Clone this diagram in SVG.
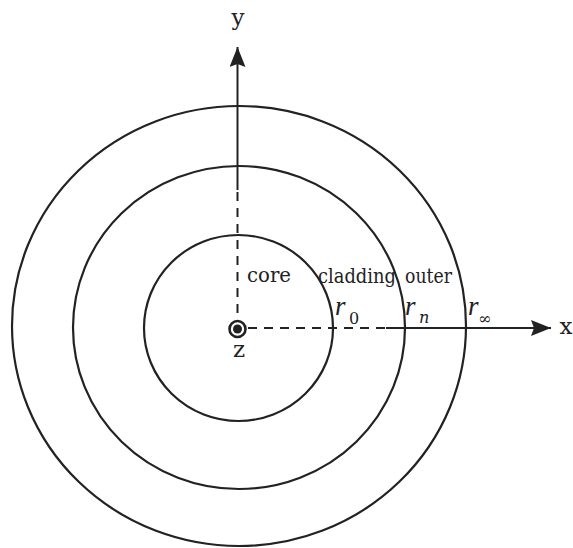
<svg xmlns="http://www.w3.org/2000/svg" width="573" height="548" viewBox="0 0 573 548">
<style>
.ring{fill:none;stroke:#222;stroke-width:2.2}
.ax{stroke:#222;stroke-width:2;fill:none}
.dash{stroke-dasharray:9 7}
.lbl{font-family:"DejaVu Serif","Liberation Serif",serif;font-size:20px;fill:#222}
.ax-lbl{font-family:"DejaVu Serif","Liberation Serif",serif;font-size:23px;fill:#222}
.r{font-family:"Liberation Serif","DejaVu Serif",serif;font-style:italic;font-size:27px;fill:#222}
.sub{font-family:"DejaVu Serif","Liberation Serif",serif;font-size:16px;fill:#222}
</style>
<defs>
<marker id="ah" viewBox="0 0 20 16" refX="20" refY="8" markerWidth="20" markerHeight="16" markerUnits="userSpaceOnUse" orient="auto">
<path d="M0,0 L20,8 L0,16 L3,8 Z" fill="#222"/>
</marker>
</defs>
<g id="outer-ring"><ellipse class="ring" cx="239" cy="326" rx="227" ry="220"/></g>
<g id="cladding-ring"><ellipse class="ring" cx="239" cy="327.5" rx="166" ry="161.5"/></g>
<g id="core-ring"><ellipse class="ring" cx="238.5" cy="328" rx="94.5" ry="93"/></g>
<g id="connectors">
<line class="ax" x1="237.5" y1="190" x2="237.5" y2="47" marker-end="url(#ah)"/>
<line class="ax dash" x1="237.5" y1="192" x2="237.5" y2="318"/>
<line class="ax dash" x1="248" y1="328" x2="386" y2="328"/>
<line class="ax" x1="386" y1="328" x2="551" y2="328" marker-end="url(#ah)"/>
</g>
<g id="z-axis">
<circle cx="237.5" cy="329" r="8" fill="none" stroke="#222" stroke-width="2.6"/>
<circle cx="237.5" cy="329" r="4.5" fill="#222"/>
</g>
<g id="labels">
<text class="ax-lbl" x="238" y="25" text-anchor="middle">y</text>
<text class="ax-lbl" x="566" y="334" text-anchor="middle">x</text>
<text class="ax-lbl" x="239" y="357" text-anchor="middle">z</text>
<text class="lbl" x="247" y="282" textLength="44" lengthAdjust="spacingAndGlyphs">core</text>
<text class="lbl" x="318" y="283" textLength="78" lengthAdjust="spacingAndGlyphs">cladding</text>
<text class="lbl" x="405" y="283" textLength="47" lengthAdjust="spacingAndGlyphs">outer</text>
<text class="r" x="335" y="315">r</text><text class="sub" x="349" y="324">0</text>
<text class="r" x="405" y="315">r</text><text class="sub" x="419" y="323" font-style="italic">n</text>
<text class="r" x="468" y="315">r</text><text class="sub" x="478" y="324" font-size="22">∞</text>
</g>
</svg>
